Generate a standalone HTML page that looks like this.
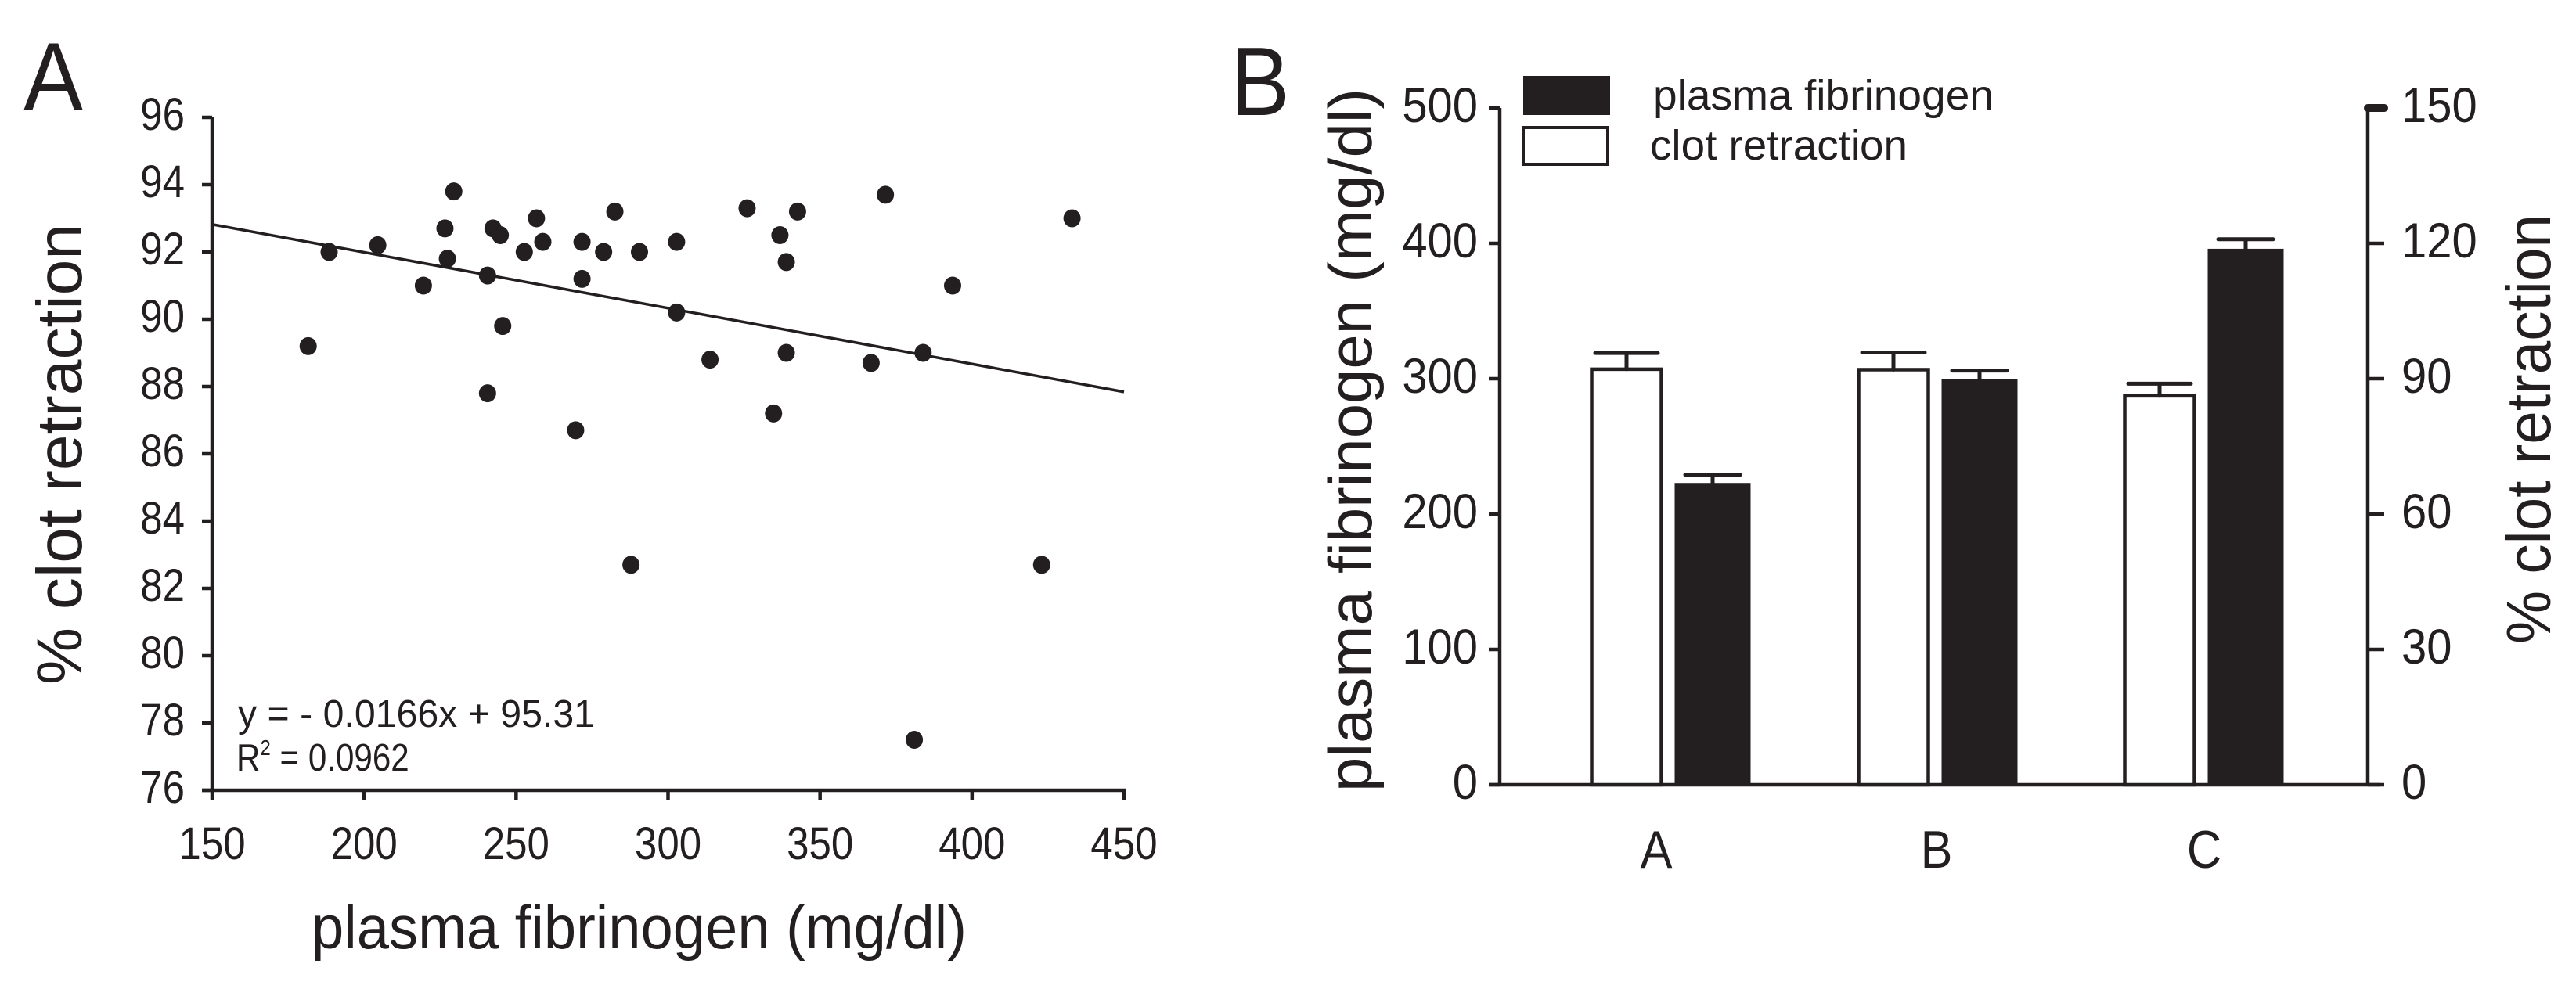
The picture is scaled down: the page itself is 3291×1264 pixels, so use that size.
<!DOCTYPE html>
<html><head><meta charset="utf-8"><style>
html,body{margin:0;padding:0;background:#fff;}
svg{display:block;}
text{font-family:"Liberation Sans",sans-serif;fill:#231f20;}
</style></head><body>
<svg id="fig" width="3291" height="1264" viewBox="0 0 3291 1264" xmlns="http://www.w3.org/2000/svg">
<rect width="3291" height="1264" fill="#fff"/>
<g id="panelA"></g>
<g id="panelB"></g>
</svg>
<script>
// ---- Panel A data ----
const fibX = [181.6,188.5,204.5,219.5,226.6,227.4,229.5,240.6,240.6,242.4,244.8,245.6,252.7,256.7,258.8,269.6,271.7,271.7,278.8,282.5,287.8,290.6,302.8,302.8,313.8,326.0,334.7,336.8,338.9,338.9,342.6,366.8,371.5,381.0,383.9,393.6,422.9,432.9];
const clotY = [89.2,92.0,92.2,91.0,92.7,91.8,93.8,91.3,87.8,92.7,92.5,89.8,92.0,93.0,92.3,86.7,92.3,91.2,92.0,93.2,82.7,92.0,92.3,90.2,88.8,93.3,87.2,92.5,91.7,89.0,93.2,88.7,93.7,77.5,89.0,91.0,82.7,93.0];
const xTicksA = [150,200,250,300,350,400,450];
const yTicksA = [76,78,80,82,84,86,88,90,92,94,96];
const regSlope = -0.0166;
const regIntercept = 95.31;
// ---- Panel B data ----
const groups = ["A","B","C"];
const clotRetraction = [92.1,92.0,86.2];
const clotErr = [3.6,3.8,2.7];
const fibrinogen = [223,300,396];
const fibrinogenErr = [6,6,7];
const yTicksLeftB = [0,100,200,300,400,500];
const yTicksRightB = [0,30,60,90,120,150];

const NS="http://www.w3.org/2000/svg";
const C="#231f20";
function el(parent,tag,attrs){const e=document.createElementNS(NS,tag);for(const k in attrs)e.setAttribute(k,attrs[k]);parent.appendChild(e);return e;}
function txt(parent,x,y,s,size,anchor,sx,rot){
  const t=el(parent,'text',{'font-size':size,'text-anchor':anchor||'start',transform:`translate(${x},${y}) rotate(${rot||0}) scale(${sx||1},1)`});
  t.textContent=s;return t;
}
// ===== Panel A =====
const A=document.getElementById('panelA');
const ax=v=>271+(v-150)*(1436-271)/300;
const ay=v=>1010-(v-76)*(1010-150)/20;
let t;
t=txt(A,30,141,"A",124,'start',0.92);

let l=el(A,'line',{x1:ax(150),y1:ay(96),x2:ax(150),y2:ay(76)+2,stroke:C,'stroke-width':4.5});

l=el(A,'line',{x1:258,y1:ay(76),x2:ax(450)+2,y2:ay(76),stroke:C,'stroke-width':4.5});

yTicksA.forEach(v=>{
  const k=el(A,'line',{x1:258,y1:ay(v),x2:ax(150),y2:ay(v),stroke:C,'stroke-width':4.5});
  
  const lb=txt(A,236,ay(v)+16,String(v),58,'end',0.88);
  
});
xTicksA.forEach(v=>{
  const k=el(A,'line',{x1:ax(v),y1:ay(76),x2:ax(v),y2:ay(76)+13,stroke:C,'stroke-width':4.5});
  
  const lb=txt(A,ax(v),1098,String(v),58,'middle',0.88);
  
});
t=el(A,'text',{x:398,y:1212,'font-size':78,textLength:837,lengthAdjust:'spacingAndGlyphs'});
t.textContent="plasma fibrinogen (mg/dl)";

t=el(A,'text',{x:0,y:0,'font-size':82,textLength:589,lengthAdjust:'spacingAndGlyphs',transform:'translate(104,875) rotate(-90)'});
t.textContent="% clot retraction";

l=el(A,'line',{x1:ax(150),y1:ay(regSlope*150+regIntercept),x2:ax(450),y2:ay(regSlope*450+regIntercept),stroke:C,'stroke-width':3.5});

fibX.forEach((x,i)=>{
  const d=el(A,'ellipse',{cx:ax(x),cy:ay(clotY[i]),rx:11,ry:11.5,fill:C});
  
});
t=el(A,'text',{x:304,y:929,'font-size':49,textLength:456,lengthAdjust:'spacingAndGlyphs'});
t.textContent="y = - 0.0166x + 95.31";

t=el(A,'text',{x:302,y:985,'font-size':49});

t.innerHTML='<tspan>R</tspan><tspan font-size="28" dy="-20">2</tspan><tspan dy="20"> = 0.0962</tspan>';
t.setAttribute('transform','translate(302,0) scale(0.86,1) translate(-302,0)');

// ===== Panel B =====
const B=document.getElementById('panelB');
const by=v=>1003-v*(1003-138)/500;        // left scale
const byR=v=>1003-v*(1003-138)/150;       // right scale
const centers=[2132,2473,2813];
const labelX=[2116,2474,2816];
const bw=93, gap=15;
t=txt(B,1572,147,"B",124,'start',0.92);

l=el(B,'line',{x1:1916,y1:by(500),x2:1916,y2:by(0),stroke:C,'stroke-width':4.5});

l=el(B,'line',{x1:3025,y1:byR(150),x2:3025,y2:byR(0),stroke:C,'stroke-width':4.5});

l=el(B,'line',{x1:1902,y1:by(0),x2:3040,y2:by(0),stroke:C,'stroke-width':4.5});

yTicksLeftB.forEach(v=>{
  const k=el(B,'line',{x1:1902,y1:by(v),x2:1916,y2:by(v),stroke:C,'stroke-width':4.5});
  
  const lb=txt(B,1888,by(v)+18,String(v),63,'end',0.92);
  
});
yTicksRightB.forEach((v,i)=>{
  const k=el(B,'line',{x1:3025,y1:byR(v),x2:3046,y2:byR(v),stroke:C,'stroke-width':i===5?10:4.5,'stroke-linecap':i===5?'round':'butt'});
  
  const lb=txt(B,3068,byR(v)+18,String(v),63,'start',0.92);
  
});
groups.forEach((g,i)=>{
  const c=centers[i];
  const wx=c-gap/2-bw, bx=c+gap/2;
  const wt=byR(clotRetraction[i]);
  let r=el(B,'rect',{x:wx+2,y:wt,width:bw-4,height:by(0)-wt,fill:'#fff',stroke:C,'stroke-width':4.5});
  
  const we=byR(clotRetraction[i]+clotErr[i]);
  let e=el(B,'path',{d:`M${wx+bw/2},${wt} V${we} M${wx+bw/2-40},${we} H${wx+bw/2+40}`,stroke:C,'stroke-width':5,fill:'none','stroke-linecap':'round'});
  
  const bt=by(fibrinogen[i]);
  r=el(B,'rect',{x:bx,y:bt,width:bw+4,height:by(0)-bt,fill:C});
  
  const be=by(fibrinogen[i]+fibrinogenErr[i]);
  e=el(B,'path',{d:`M${bx+bw/2+2},${bt} V${be} M${bx+bw/2-33},${be} H${bx+bw/2+37}`,stroke:C,'stroke-width':5,fill:'none','stroke-linecap':'round'});
  
  const lb=txt(B,labelX[i],1109,g,68,'middle',0.9);
  
});
// legend
let r=el(B,'rect',{x:1946,y:97,width:111,height:50,fill:C});

r=el(B,'rect',{x:1946,y:163,width:108,height:47,fill:'#fff',stroke:C,'stroke-width':4});

t=el(B,'text',{x:2112,y:140,'font-size':54,textLength:435,lengthAdjust:'spacingAndGlyphs'});
t.textContent="plasma fibrinogen";

t=el(B,'text',{x:2108,y:204,'font-size':54,textLength:329,lengthAdjust:'spacingAndGlyphs'});
t.textContent="clot retraction";

t=el(B,'text',{x:0,y:0,'font-size':78,textLength:899,lengthAdjust:'spacingAndGlyphs',transform:'translate(1752,1012) rotate(-90)'});
t.textContent="plasma fibrinogen  (mg/dl)";

t=el(B,'text',{x:0,y:0,'font-size':80,textLength:549,lengthAdjust:'spacingAndGlyphs',transform:'translate(3258,823) rotate(-90)'});
t.textContent="% clot retraction";

</script>
</body></html>
